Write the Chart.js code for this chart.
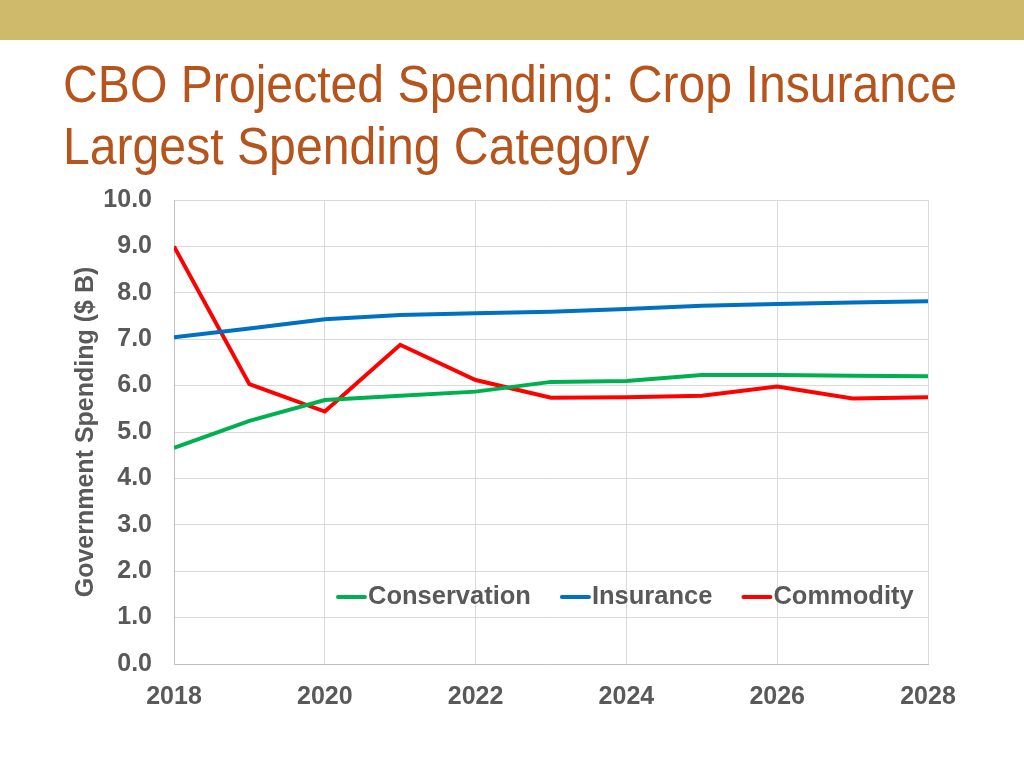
<!DOCTYPE html>
<html><head><meta charset="utf-8">
<script src="https://cdn.jsdelivr.net/npm/chart.js@4.4.1/dist/chart.umd.min.js"></script>
<style>
html,body{margin:0;padding:0;background:#fff;width:1024px;height:768px;overflow:hidden;}
#band{position:absolute;left:0;top:0;width:1024px;height:40px;background:#CFB96B;}
#title{position:absolute;left:63px;top:54px;font-family:"Liberation Sans",Arial,sans-serif;font-size:51px;line-height:62px;color:#B5541C;white-space:nowrap;transform-origin:0 0;}
#wrap{position:absolute;left:0;top:0;width:1024px;height:768px;}
</style></head><body>
<div id="band"></div>
<div id="title"><span id="t1">CBO Projected Spending: Crop Insurance</span><br><span>Largest Spending Category</span></div>
<div id="wrap"><canvas id="c" width="1024" height="768"></canvas></div>
<script>
const years = [2018, 2019, 2020, 2021, 2022, 2023, 2024, 2025, 2026, 2027, 2028];
const conservation = [4.66, 5.24, 5.69, 5.78, 5.87, 6.08, 6.10, 6.23, 6.23, 6.21, 6.20];
const insurance    = [7.04, 7.23, 7.43, 7.52, 7.56, 7.59, 7.65, 7.72, 7.76, 7.79, 7.82];
const commodity    = [9.00, 6.03, 5.44, 6.88, 6.12, 5.74, 5.75, 5.78, 5.98, 5.72, 5.75];
const seriesNames = ['Conservation', 'Insurance', 'Commodity'];
const seriesColors = ['#00B050', '#0070C0', '#FF0000'];
const xTicks = [2018, 2020, 2022, 2024, 2026, 2028];
const yTicks = [0, 1, 2, 3, 4, 5, 6, 7, 8, 9, 10];

// fit title width
const t1 = document.getElementById('t1');
const tw = t1.getBoundingClientRect().width;
document.getElementById('title').style.transform = 'scaleX(' + (894 / tw) + ')';

Chart.defaults.font.family = '"Liberation Sans", Arial, sans-serif';
Chart.defaults.color = '#595959';

const seriesValues = [conservation, insurance, commodity];
const datasets = seriesNames.map((name, i) => ({
  label: name,
  data: years.map((yr, j) => ({ x: yr, y: seriesValues[i][j] })),
  borderColor: seriesColors[i],
  backgroundColor: seriesColors[i],
  borderWidth: 4,
  pointRadius: 0,
  tension: 0,
  fill: false
}));

const insideLegend = {
  id: 'insideLegend',
  afterDatasetsDraw(chart) {
    const { ctx, chartArea } = chart;
    ctx.save();
    ctx.font = 'bold 25.5px "Liberation Sans", Arial, sans-serif';
    ctx.textBaseline = 'middle';
    ctx.textAlign = 'left';
    let x = chartArea.left + 162;
    const y = chartArea.bottom - 67;
    chart.data.datasets.forEach(ds => {
      ctx.strokeStyle = ds.borderColor;
      ctx.lineWidth = 4;
      ctx.lineCap = 'round';
      ctx.beginPath();
      ctx.moveTo(x + 2, y);
      ctx.lineTo(x + 29, y);
      ctx.stroke();
      ctx.fillStyle = '#595959';
      ctx.fillText(ds.label, x + 32, y);
      x += 32 + ctx.measureText(ds.label).width + 29;
    });
    ctx.restore();
  }
};

new Chart(document.getElementById('c'), {
  type: 'line',
  data: { datasets },
  plugins: [insideLegend],
  options: {
    responsive: false,
    animation: false,
    devicePixelRatio: 1,
    layout: { padding: { left: 0, top: 200, right: 96, bottom: 0 } },
    plugins: { legend: { display: false }, tooltip: { enabled: false } },
    scales: {
      x: {
        type: 'linear',
        min: 2018, max: 2028,
        afterBuildTicks: s => { s.ticks = xTicks.map(v => ({ value: v })); },
        afterFit: s => { s.height = 104; },
        ticks: {
          callback: v => String(v),
          font: { size: 25, weight: 'bold' },
          color: '#595959',
          padding: 18,
          maxRotation: 0,
          autoSkip: false
        },
        grid: { color: '#d9d9d9', lineWidth: 1, drawTicks: false },
        border: { color: '#bfbfbf', width: 1 }
      },
      y: {
        min: 0, max: 10,
        afterBuildTicks: s => { s.ticks = yTicks.map(v => ({ value: v })); },
        afterFit: s => { s.width = 174; },
        ticks: {
          callback: v => Number(v).toFixed(1),
          font: { size: 25, weight: 'bold' },
          color: '#595959',
          padding: 22
        },
        grid: { color: '#d9d9d9', lineWidth: 1, drawTicks: false },
        border: { color: '#bfbfbf', width: 1 },
        title: {
          display: true,
          text: 'Government Spending ($ B)',
          font: { size: 25, weight: 'bold' },
          color: '#595959',
          padding: { top: 71, bottom: 0 }
        }
      }
    }
  }
});
</script>
</body></html>
